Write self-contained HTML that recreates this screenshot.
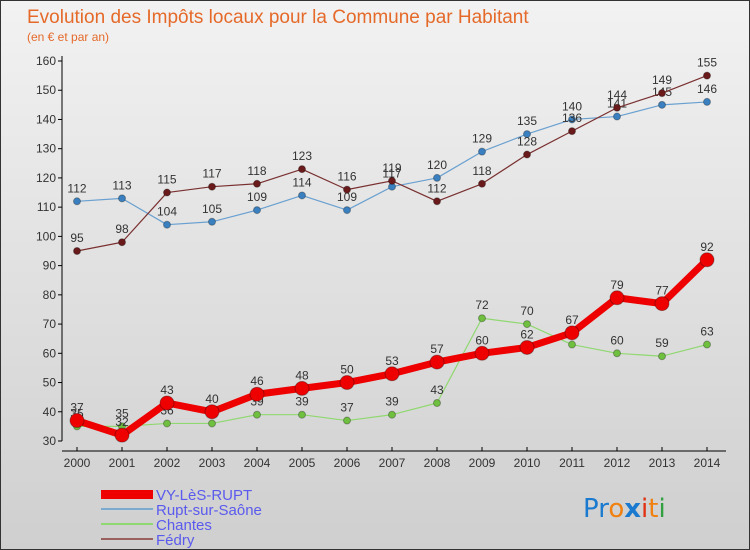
<!DOCTYPE html>
<html><head><meta charset="utf-8"><style>
body{margin:0;}
#wrap{width:750px;height:550px;position:relative;background:linear-gradient(#f2f2f2,#cfcfcf);box-sizing:border-box;border:1px solid #333;overflow:hidden;font-family:"Liberation Sans",sans-serif;}
</style></head><body>
<div id="wrap">
<svg id="svg" width="750" height="550" style="position:absolute;left:0;top:0">
<text x="26" y="22" font-size="19" fill="#e56a2a">Evolution des Impôts locaux pour la Commune par Habitant</text>
<text x="26" y="40" font-size="12" fill="#e56a2a">(en € et par an)</text>
<g id="axes"></g><g id="series"></g>
<g>
<rect x="100" y="489" width="52" height="9" fill="#e00"/>
<text x="155" y="499" font-size="15" fill="#5a5aee">VY-LèS-RUPT</text>
<rect x="100" y="507" width="52" height="2" fill="#7aaad0"/>
<text x="155" y="514" font-size="15" fill="#5a5aee">Rupt-sur-Saône</text>
<rect x="100" y="522" width="52" height="2" fill="#90d870"/>
<text x="155" y="529" font-size="15" fill="#5a5aee">Chantes</text>
<rect x="100" y="537" width="52" height="2" fill="#9a6060"/>
<text x="155" y="544" font-size="15" fill="#5a5aee">Fédry</text>
</g>
<g font-size="26" font-family="'DejaVu Sans',sans-serif">
<text x="582" y="516"><tspan fill="#1a7ad0">Pr</tspan><tspan fill="#f08010">o</tspan><tspan fill="#1a7ad0" font-weight="bold">x</tspan><tspan fill="#e03010">i</tspan><tspan fill="#f08010">t</tspan><tspan fill="#30a040">i</tspan></text>
</g>
</svg>
</div>
<script>
const years=[2000,2001,2002,2003,2004,2005,2006,2007,2008,2009,2010,2011,2012,2013,2014];
const vy=[37,32,43,40,46,48,50,53,57,60,62,67,79,77,92];
const rupt=[112,113,104,105,109,114,109,117,120,129,135,140,141,145,146];
const chantes=[35,35,36,36,39,39,37,39,43,72,70,63,60,59,63];
const fedry=[95,98,115,117,118,123,116,119,112,118,128,136,144,149,155];
const yTicks=[30,40,50,60,70,80,90,100,110,120,130,140,150,160];
const NS="http://www.w3.org/2000/svg";
const X=i=>76+i*45, Y=v=>440-(v-30)*380/130;
function mk(t,a,p){const e=document.createElementNS(NS,t);for(const k in a)e.setAttribute(k,a[k]);p.appendChild(e);return e;}
const ax=document.getElementById('axes');
let l=mk('line',{x1:61,y1:55,x2:61,y2:440,stroke:'#000'},ax);

l=mk('line',{x1:61,y1:450,x2:725,y2:450,stroke:'#000'},ax);

yTicks.forEach(v=>{mk('line',{x1:57,y1:Y(v),x2:61,y2:Y(v),stroke:'#000'},ax);
const t=mk('text',{x:55,y:Y(v)+4,'font-size':12,fill:'#333','text-anchor':'end'},ax);t.textContent=v;
});
years.forEach((y,i)=>{mk('line',{x1:X(i),y1:446,x2:X(i),y2:450,stroke:'#000'},ax);
const t=mk('text',{x:X(i),y:466,'font-size':12,fill:'#333','text-anchor':'middle'},ax);t.textContent=y;
});
const sg=document.getElementById('series');
function draw(name,data,col,dot,w,r,lab){
const g=mk('g',{},sg);
const p=mk('polyline',{points:data.map((v,i)=>X(i)+','+Y(v)).join(' '),fill:'none',stroke:col,'stroke-width':w,'stroke-linejoin':'round'},g);

data.forEach((v,i)=>{const c=mk('circle',{cx:X(i),cy:Y(v),r:r,fill:dot,stroke:'rgba(0,0,0,0.3)'},g);

const t=mk('text',{x:X(i),y:Y(v)-9,'font-size':12,fill:'#333','text-anchor':'middle'},g);t.textContent=v;
});}
draw('rupt',rupt,'#6aa0d0','#3a80c0',1.2,3.5);
draw('fedry',fedry,'#7a3030','#6a1a1a',1.2,3.5);
draw('chantes',chantes,'#90d870','#70c040',1.2,3.5);
draw('vy',vy,'#e00','#e00',7,7);
</script>
</body></html>
